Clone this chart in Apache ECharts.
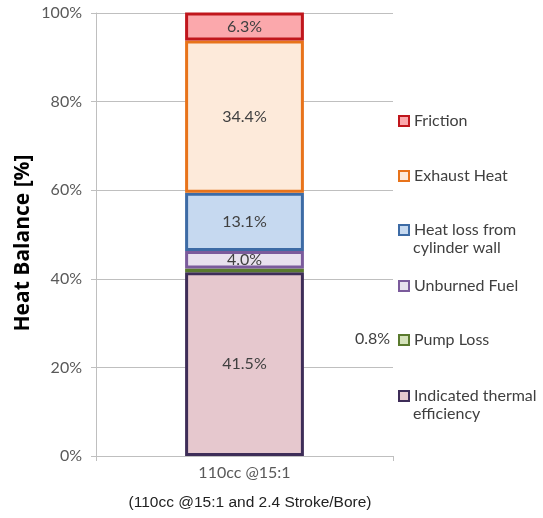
<!DOCTYPE html>
<html>
<head>
<meta charset="utf-8">
<script src="https://cdn.jsdelivr.net/npm/echarts@6/dist/echarts.min.js"></script>
<style>
  html, body { margin: 0; padding: 0; background: #fff; }
  #chart { width: 543px; height: 518px; }
</style>
</head>
<body>
<div id="chart"></div>
<script>
// Heat balance breakdown for a single engine configuration (stacked to 100%)
const categories = ['110cc @15:1'];
// Stack order, bottom to top
const seriesNames = ['Indicated thermal efficiency', 'Pump Loss', 'Unburned Fuel',
                     'Heat loss from cylinder wall', 'Exhaust Heat', 'Friction'];
const indicated = [41.5];
const pumpLoss = [0.8];
const unburned = [4.0];
const heatLoss = [13.1];
const exhaust = [34.4];
const friction = [6.3];
const yTicks = [0, 20, 40, 60, 80, 100];

const values = [indicated, pumpLoss, unburned, heatLoss, exhaust, friction];
const fills = ['#E6C8CE', '#D4E2BA', '#E8E1EE', '#C6D9F0', '#FDEADA', '#FBA8AC'];
const borders = ['#3E2D58', '#5A7A2E', '#7B5B9C', '#3D6BA5', '#E8731A', '#C0161C'];

// Legend rows, top to bottom, with their vertical centres
const legendRows = [
  { name: 'Friction', y: 121, first: 'Friction', second: '' },
  { name: 'Exhaust Heat', y: 176, first: 'Exhaust Heat', second: '' },
  { name: 'Heat loss from cylinder wall', y: 230, first: 'Heat loss from', second: 'cylinder wall' },
  { name: 'Unburned Fuel', y: 286, first: 'Unburned Fuel', second: '' },
  { name: 'Pump Loss', y: 340, first: 'Pump Loss', second: '' },
  { name: 'Indicated thermal efficiency', y: 396, first: 'Indicated thermal', second: 'efficiency' }
];

const font = 'Lato, "Open Sans", sans-serif';

const series = seriesNames.map((name, i) => {
  const isPump = name === 'Pump Loss';
  return {
    name: name,
    type: 'bar',
    stack: 'total',
    barWidth: '40%',
    data: values[i],
    itemStyle: { color: fills[i], borderColor: borders[i], borderWidth: 3 },
    label: {
      show: true,
      position: isPump ? 'right' : 'inside',
      offset: isPump ? [46, 68] : [0, 0],
      formatter: p => p.value.toFixed(1) + '%',
      color: '#404040',
      fontSize: 16,
      fontFamily: font
    }
  };
});

const legends = legendRows.map(r => ({
  data: [r.name],
  orient: 'vertical',
  left: 398,
  top: r.y - 9,
  padding: 0,
  itemWidth: 10,
  itemHeight: 10,
  icon: 'rect',
  itemStyle: { borderWidth: 2 },
  formatter: () => r.first,
  textStyle: { color: '#404040', fontSize: 16, fontFamily: font, lineHeight: 18 },
  selectedMode: false
}));

const secondLines = legendRows.filter(r => r.second).map(r => ({
  type: 'text',
  left: 413,
  top: r.y + 10,
  style: { text: r.second, fill: '#404040', font: '16px ' + font }
}));

const chart = echarts.init(document.getElementById('chart'));
chart.setOption({
  animation: false,
  grid: { left: 96, right: 150, top: 13, bottom: 62 },
  legend: legends,
  xAxis: {
    type: 'category',
    data: categories,
    axisLine: { lineStyle: { color: '#BFBFBF' } },
    axisTick: { show: true, length: 5, lineStyle: { color: '#BFBFBF' } },
    axisLabel: { color: '#595959', fontSize: 16, fontFamily: font, margin: 9 }
  },
  yAxis: {
    type: 'value',
    min: yTicks[0],
    max: yTicks[yTicks.length - 1],
    interval: 20,
    axisLine: { show: true, lineStyle: { color: '#BFBFBF' } },
    axisTick: { show: true, length: 5, lineStyle: { color: '#BFBFBF' } },
    axisLabel: { formatter: '{value}%', color: '#595959', fontSize: 16, fontFamily: font, margin: 14 },
    splitLine: { lineStyle: { color: '#BFBFBF' } }
  },
  graphic: [
    ...secondLines,
    {
      // Vertical axis title
      type: 'text',
      x: 23,
      y: 243,
      rotation: Math.PI / 2,
      style: {
        text: 'Heat Balance [%]',
        fill: '#000',
        font: 'bold 21px "Open Sans", Lato, sans-serif',
        textAlign: 'center',
        textVerticalAlign: 'middle'
      }
    },
    {
      type: 'text',
      x: 250,
      y: 503,
      style: {
        text: '(110cc @15:1 and 2.4 Stroke/Bore)',
        fill: '#222',
        font: '15.5px "Liberation Sans", Arial, sans-serif',
        textAlign: 'center',
        textVerticalAlign: 'middle'
      }
    }
  ],
  series: series
});
</script>
</body>
</html>
